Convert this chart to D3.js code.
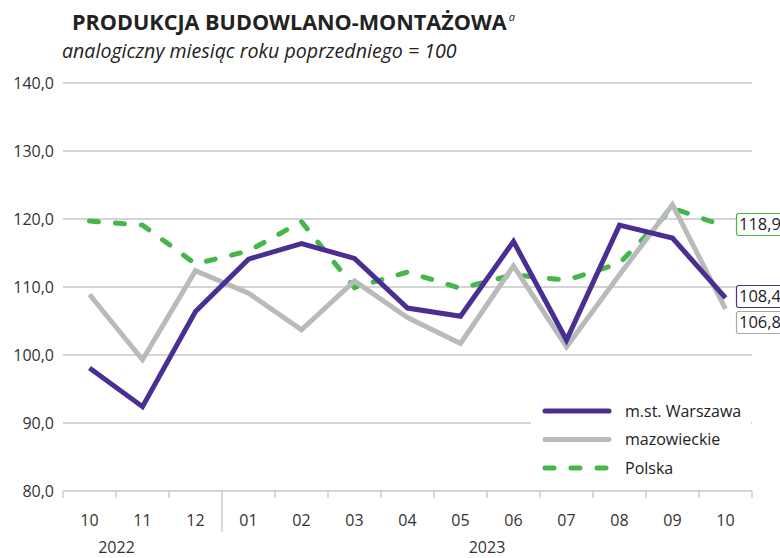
<!DOCTYPE html>
<html>
<head>
<meta charset="utf-8">
<script src="https://cdn.jsdelivr.net/npm/d3@7"></script>
<style>
  body { margin: 0; background: #fff; }
  svg { font-family: "Open Sans", sans-serif; }
</style>
</head>
<body>
<div id="chart"></div>
<script>
// chart data
const months = ["10", "11", "12", "01", "02", "03", "04", "05", "06", "07", "08", "09", "10"];
const years = [{label: "2022", from: 0, to: 2}, {label: "2023", from: 3, to: 12}];
const warszawa = [98.1, 92.4, 106.4, 114.1, 116.4, 114.2, 106.9, 105.7, 116.7, 102.2, 119.1, 117.2, 108.4];
const mazowieckie = [108.9, 99.3, 112.4, 109.1, 103.7, 110.9, 105.5, 101.7, 113.1, 101.2, 111.8, 122.1, 106.8];
const polska = [119.7, 119.1, 113.4, 115.3, 119.6, 109.9, 112.2, 109.8, 111.8, 111.0, 113.5, 121.6, 118.9];
const yTicks = [80, 90, 100, 110, 120, 130, 140];

const width = 780, height = 558;
const fmt = v => d3.format(".1f")(v).replace(".", ",");

const svg = d3.select("#chart")
  .append("svg")
    .attr("width", width)
    .attr("height", height);

const x = d3.scaleBand()
    .domain(d3.range(months.length))
    .range([63, 752])
    .padding(0);
const xc = i => x(i) + x.bandwidth() / 2;

const y = d3.scaleLinear()
    .domain([80, 140])
    .range([491, 83]);

// title
const title = svg.append("text")
    .attr("x", 72)
    .attr("y", 30)
    .attr("font-size", 21.6)
    .attr("font-weight", "bold")
    .attr("fill", "#222")
    .text("PRODUKCJA BUDOWLANO-MONTAŻOWA");
title.append("tspan")
    .attr("dy", -9)
    .attr("dx", 2)
    .attr("font-size", 11)
    .attr("font-weight", "normal")
    .attr("font-style", "italic")
    .text("a");

svg.append("text")
    .attr("x", 62)
    .attr("y", 58)
    .attr("font-size", 19.6)
    .attr("font-style", "italic")
    .attr("fill", "#222")
    .text("analogiczny miesiąc roku poprzedniego = 100");

// grid lines
svg.append("g")
  .selectAll("line")
  .data(yTicks)
  .join("line")
    .attr("x1", 63)
    .attr("x2", 752)
    .attr("y1", d => y(d))
    .attr("y2", d => y(d))
    .attr("stroke", "#c6c6c6")
    .attr("stroke-width", 1.3);

// y labels
svg.append("g")
  .selectAll("text")
  .data(yTicks)
  .join("text")
    .attr("x", 54)
    .attr("y", d => y(d))
    .attr("dy", "0.35em")
    .attr("text-anchor", "end")
    .attr("font-size", 16)
    .attr("fill", "#333")
    .text(d => fmt(d));

// x ticks
const tickPos = d3.range(months.length + 1).map(i => i < months.length ? x(i) : 752);
svg.append("g")
  .selectAll("line")
  .data(tickPos)
  .join("line")
    .attr("x1", d => d)
    .attr("x2", d => d)
    .attr("y1", 491)
    .attr("y2", (d, i) => i === 3 ? 532 : 498)
    .attr("stroke", "#c6c6c6")
    .attr("stroke-width", 1.3);

svg.append("g")
  .selectAll("text")
  .data(months)
  .join("text")
    .attr("x", (d, i) => xc(i))
    .attr("y", 526)
    .attr("text-anchor", "middle")
    .attr("font-size", 16)
    .attr("fill", "#333")
    .text(d => d);

svg.append("g")
  .selectAll("text")
  .data(years)
  .join("text")
    .attr("x", d => (x(d.from) + x(d.to) + x.bandwidth()) / 2 - (d.from === 0 ? 26 : 0))
    .attr("y", 553)
    .attr("text-anchor", "middle")
    .attr("font-size", 16)
    .attr("fill", "#333")
    .text(d => d.label);

// lines
const line = d3.line()
    .x((d, i) => xc(i))
    .y(d => y(d));

const series = [
  {name: "Polska", values: polska, color: "#45b649", dash: "9,17", width: 5},
  {name: "mazowieckie", values: mazowieckie, color: "#b9bbbb", dash: null, width: 5},
  {name: "m.st. Warszawa", values: warszawa, color: "#4b2e92", dash: null, width: 5}
];

svg.append("g")
  .selectAll("path")
  .data(series)
  .join("path")
    .attr("d", d => line(d.values))
    .attr("fill", "none")
    .attr("stroke", d => d.color)
    .attr("stroke-width", d => d.width)
    .attr("stroke-dasharray", d => d.dash)
    .attr("stroke-linecap", d => d.dash ? "round" : "butt")
    .attr("stroke-linejoin", "miter");

// end labels
const endLabels = [
  {s: series[0], y: 213},
  {s: series[2], y: 285},
  {s: series[1], y: 311}
];
const lab = svg.append("g")
  .selectAll("g")
  .data(endLabels)
  .join("g")
    .attr("transform", d => `translate(736, ${d.y})`);
lab.append("rect")
    .attr("x", 0.5)
    .attr("y", 0.5)
    .attr("width", 50)
    .attr("height", 22)
    .attr("fill", "#fff")
    .attr("stroke", d => d.s.color === "#b9bbbb" ? "#a8aaaa" : d.s.color)
    .attr("stroke-width", 1.2)
    .attr("rx", 2);
lab.append("text")
    .attr("x", 3)
    .attr("y", 17)
    .attr("font-size", 16.5)
    .attr("fill", "#222")
    .text(d => fmt(d.s.values[d.s.values.length - 1]));

// legend
const legend = svg.append("g");
legend.append("rect")
    .attr("x", 531)
    .attr("y", 396)
    .attr("width", 220)
    .attr("height", 84)
    .attr("fill", "#fff");

const legendOrder = [series[2], series[1], series[0]];
legend.selectAll(".legendLines")
  .data(legendOrder)
  .join("line")
    .attr("x1", 545)
    .attr("x2", 609)
    .attr("y1", (d, i) => 411 + i * 28.5)
    .attr("y2", (d, i) => 411 + i * 28.5)
    .attr("stroke", d => d.color)
    .attr("stroke-width", 5)
    .attr("stroke-linecap", "round")
    .attr("stroke-dasharray", d => d.dash ? "9,17" : null);

legend.selectAll(".legendLabels")
  .data(legendOrder)
  .join("text")
    .attr("x", 625)
    .attr("y", (d, i) => 411 + i * 28.5)
    .attr("dy", "0.35em")
    .attr("font-size", 16)
    .attr("fill", "#222")
    .text(d => d.name);
</script>
</body>
</html>
